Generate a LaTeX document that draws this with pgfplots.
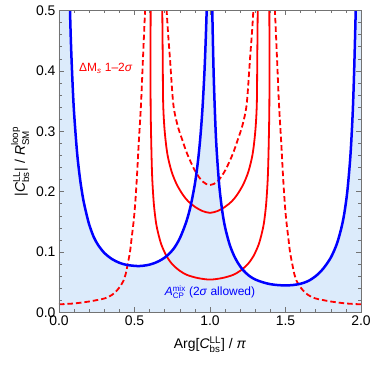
\documentclass[border=0pt]{standalone}
\usepackage{pgfplots}
\pgfplotsset{compat=1.18}
\usepackage{amsmath}
\usepackage{fontspec}
\setmainfont{Liberation Sans}
\definecolor{fillblue}{RGB}{220,235,251}
\definecolor{framegray}{RGB}{115,115,115}

\begin{document}
\begin{tikzpicture}
\begin{axis}[
  scale only axis, width=302bp, height=302bp,
  xmin=0, xmax=2, ymin=0, ymax=0.5,
  xtick={0,0.5,1,1.5,2}, ytick={0,0.1,0.2,0.3,0.4,0.5},
  minor x tick num=4, minor y tick num=4,
  tick align=inside, tick pos=both,
  major tick length=5bp, minor tick length=3bp,
  every tick/.style={framegray, line width=0.6bp},
  axis line style={framegray, line width=0.9bp},
  /pgf/number format/assume math mode=true,
  /pgf/number format/.cd, fixed, fixed zerofill, precision=1, /pgfplots/.cd,
  tick label style={font=\fontsize{14}{16}\selectfont},
  label style={font=\fontsize{14}{16}\selectfont},
  xlabel style={yshift=-4bp},
  xlabel={Arg[\textit{C}$^{\text{LL}}_{\text{bs}}$] / \textit{π}},
  ylabel={|\textit{C}$^{\text{LL}}_{\text{bs}}$| / \textit{R}$^{\text{loop}}_{\text{SM}}$},
  axis on top,
]
\coordinate (sw) at (rel axis cs:0,0);
\coordinate (ne) at (rel axis cs:1,1);

% A_CP^mix allowed region
\addplot[fill=fillblue, draw=none] coordinates {
(0,0.5) (0.073,0.5) (0.08,0.44) (0.09,0.378) (0.10,0.330) (0.12,0.264) (0.14,0.220)
(0.16,0.188) (0.18,0.165) (0.20,0.1456) (0.23,0.125) (0.26,0.1114) (0.30,0.0987)
(0.35,0.0886) (0.40,0.0823) (0.45,0.0787) (0.52,0.0769) (0.56,0.0775) (0.60,0.0793)
(0.64,0.0826) (0.68,0.0876) (0.72,0.0949) (0.76,0.1058) (0.80,0.1228) (0.84,0.148)
(0.87,0.1745) (0.90,0.213) (0.92,0.25) (0.935,0.287) (0.95,0.337) (0.965,0.408) (0.978,0.5)
(1.015,0.5) (1.025,0.388) (1.04,0.287) (1.06,0.214) (1.08,0.170) (1.10,0.141)
(1.13,0.1126) (1.16,0.0936) (1.19,0.0801) (1.22,0.070) (1.26,0.0606) (1.30,0.0546)
(1.35,0.050) (1.40,0.0469) (1.45,0.0454) (1.50,0.0448) (1.55,0.0455) (1.60,0.0476)
(1.65,0.0521) (1.70,0.0602) (1.75,0.0727) (1.80,0.0909) (1.84,0.1136) (1.87,0.140)
(1.89,0.165) (1.91,0.202) (1.93,0.260) (1.945,0.330) (1.955,0.403) (1.965,0.5) (2,0.5)} \closedcycle;

% Delta M_s, 1 sigma (solid)
\addplot[red, line width=1.8bp, smooth] coordinates {
(0.683,0.53) (0.684,0.5) (0.687,0.42) (0.69,0.345) (0.70,0.30) (0.718,0.262)
(0.746,0.233) (0.78,0.212) (0.82,0.195) (0.856,0.184) (0.90,0.175) (0.95,0.168)
(1.0,0.165) (1.05,0.168) (1.10,0.175) (1.144,0.184) (1.18,0.195) (1.22,0.212)
(1.254,0.233) (1.282,0.262) (1.30,0.30) (1.31,0.345) (1.313,0.42) (1.316,0.5) (1.317,0.53)};
\addplot[red, line width=1.8bp, smooth] coordinates {
(0.607,0.53) (0.607,0.5) (0.606,0.42) (0.607,0.34) (0.611,0.28) (0.617,0.225)
(0.628,0.18) (0.643,0.148) (0.66,0.128) (0.68,0.111) (0.713,0.093) (0.75,0.080)
(0.80,0.069) (0.85,0.062) (0.92,0.057) (1.0,0.0545) (1.08,0.057) (1.15,0.062)
(1.20,0.069) (1.25,0.080) (1.287,0.093) (1.32,0.111) (1.34,0.128) (1.357,0.148)
(1.372,0.18) (1.383,0.225) (1.389,0.28) (1.393,0.34) (1.394,0.42) (1.393,0.5) (1.393,0.53)};

% Delta M_s, 2 sigma (dashed)
\addplot[red, line width=1.8bp, dash pattern=on 5.5bp off 3bp, smooth] coordinates {
(0,0.0135) (0.1,0.015) (0.194,0.018) (0.25,0.0205) (0.305,0.0235) (0.35,0.029)
(0.382,0.036) (0.41,0.045) (0.426,0.052) (0.442,0.064) (0.455,0.080) (0.47,0.100)
(0.481,0.123) (0.493,0.148) (0.503,0.175) (0.515,0.22) (0.528,0.28) (0.543,0.344)
(0.556,0.42) (0.570,0.5) (0.574,0.53)};
\addplot[red, line width=1.8bp, dash pattern=on 5.5bp off 3bp, smooth] coordinates {
(1.426,0.53) (1.430,0.5) (1.444,0.42) (1.457,0.344) (1.472,0.28) (1.485,0.22)
(1.497,0.175) (1.507,0.148) (1.519,0.123) (1.53,0.100) (1.545,0.080) (1.558,0.064)
(1.574,0.052) (1.59,0.045) (1.618,0.036) (1.65,0.029) (1.695,0.0235) (1.75,0.0205)
(1.806,0.018) (1.9,0.015) (2,0.0135)};
\addplot[red, line width=1.8bp, dash pattern=on 5.5bp off 3bp, smooth] coordinates {
(0.709,0.53) (0.713,0.5) (0.723,0.46) (0.735,0.42) (0.757,0.345) (0.785,0.31)
(0.812,0.289) (0.85,0.262) (0.90,0.235) (0.95,0.217) (1.0,0.211) (1.05,0.217)
(1.10,0.235) (1.15,0.262) (1.188,0.289) (1.215,0.31) (1.243,0.345) (1.265,0.42)
(1.277,0.46) (1.287,0.5) (1.291,0.53)};

% A_CP^mix boundary
\addplot[blue, line width=2.5bp, smooth] coordinates {
(0.071,0.55) (0.073,0.5) (0.08,0.44) (0.09,0.378) (0.10,0.330) (0.12,0.264) (0.14,0.220)
(0.16,0.188) (0.18,0.165) (0.20,0.1456) (0.23,0.125) (0.26,0.1114) (0.30,0.0987)
(0.35,0.0886) (0.40,0.0823) (0.45,0.0787) (0.52,0.0769) (0.56,0.0775) (0.60,0.0793)
(0.64,0.0826) (0.68,0.0876) (0.72,0.0949) (0.76,0.1058) (0.80,0.1228) (0.84,0.148)
(0.87,0.1745) (0.90,0.213) (0.92,0.25) (0.935,0.287) (0.95,0.337) (0.965,0.408)
(0.978,0.5) (0.981,0.55)};
\addplot[blue, line width=2.5bp, smooth] coordinates {
(1.012,0.55) (1.015,0.5) (1.025,0.388) (1.04,0.287) (1.06,0.214) (1.08,0.170) (1.10,0.141)
(1.13,0.1126) (1.16,0.0936) (1.19,0.0801) (1.22,0.070) (1.26,0.0606) (1.30,0.0546)
(1.35,0.050) (1.40,0.0469) (1.45,0.0454) (1.50,0.0448) (1.55,0.0455) (1.60,0.0476)
(1.65,0.0521) (1.70,0.0602) (1.75,0.0727) (1.80,0.0909) (1.84,0.1136) (1.87,0.140)
(1.89,0.165) (1.91,0.202) (1.93,0.260) (1.945,0.330) (1.955,0.403) (1.965,0.5) (1.968,0.55)};

\node[anchor=west, text=red, font=\fontsize{12}{14}\selectfont]
  at (axis cs:0.11,0.404) {ΔM\textsubscript{\textit{s}} 1–2\textit{σ}};
\node[text=blue, font=\fontsize{12}{14}\selectfont]
  at (axis cs:1.0,0.034) {\textit{A}$^{\text{mix}}_{\text{CP}}$ (2\textit{σ} allowed)};
\end{axis}
\pgfresetboundingbox
\path ([shift={(-59bp,-53.5bp)}]sw) rectangle ([shift={(13bp,10.5bp)}]ne);
\end{tikzpicture}
\end{document}
